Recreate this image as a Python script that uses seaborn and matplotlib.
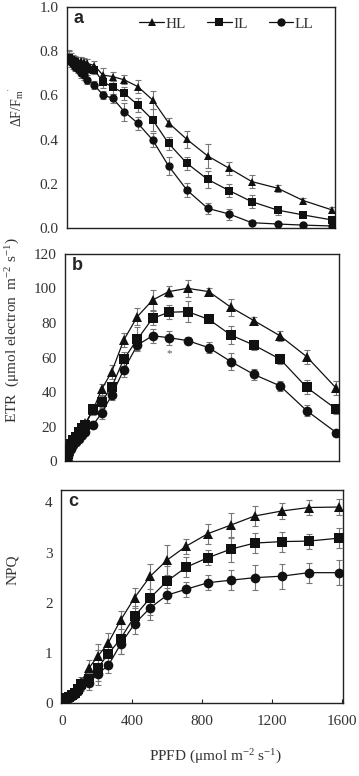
import numpy as np
import pandas as pd
import matplotlib
matplotlib.use("Agg")
import matplotlib.pyplot as plt
import seaborn as sns

# ---------------- data ----------------
ppfd = [0, 5, 15, 25, 40, 55, 75, 90, 110, 155, 205, 265, 335, 415, 505, 600,
        710, 835, 965, 1100, 1255, 1410, 1585]

yield_hl = [0.775, 0.77, 0.77, 0.765, 0.76, 0.755, 0.755, 0.75, 0.745, 0.735, 0.692,
            0.685, 0.67, 0.64, 0.579, 0.476, 0.401, 0.326, 0.27, 0.21, 0.18, 0.124, 0.081]
yield_il = [0.77, 0.765, 0.76, 0.755, 0.75, 0.74, 0.735, 0.73, 0.72, 0.715, 0.662,
            0.637, 0.609, 0.557, 0.489, 0.383, 0.293, 0.22, 0.169, 0.119, 0.081, 0.059, 0.036]
yield_ll = [0.765, 0.76, 0.75, 0.74, 0.73, 0.72, 0.70, 0.69, 0.67, 0.647, 0.602,
            0.587, 0.526, 0.474, 0.398, 0.281, 0.172, 0.089, 0.063, 0.024, 0.018, 0.013, 0.009]
yield_hl_err = [0.03, 0.03, 0.02, 0.02, 0.02, 0.02, 0.02, 0.02, 0.02, 0.02, 0.03,
                0.02, 0.02, 0.03, 0.04, 0.02, 0.04, 0.055, 0.03, 0.03, 0.015, 0.01, 0.015]
yield_il_err = [0.02, 0.02, 0.02, 0.02, 0.02, 0.02, 0.02, 0.02, 0.02, 0.02, 0.03,
                0.03, 0.03, 0.03, 0.05, 0.03, 0.03, 0.04, 0.03, 0.03, 0.02, 0.01, 0.02]
yield_ll_err = [0.02, 0.02, 0.02, 0.02, 0.02, 0.02, 0.02, 0.02, 0.02, 0.02, 0.02,
                0.02, 0.04, 0.03, 0.03, 0.04, 0.03, 0.025, 0.025, 0.01, 0.01, 0.01, 0.01]

etr_hl = [0, 3, 6, 9, 12, 14, 17, 19, 22, 29.6, 41.5, 51.8, 70, 83.7, 93.3, 98.2,
          100.1, 98.2, 89.1, 81.4, 72.5, 60.5, 42.1]
etr_il = [1, 4, 7, 10, 12, 14, 17, 19, 21, 30, 34.4, 43, 59, 70.5, 82.7, 86.2,
          86.6, 82.1, 73, 67.2, 59, 42.7, 30]
etr_ll = [1, 3, 5, 7, 9, 11, 13, 15, 17, 21, 27.6, 38.3, 52.8, 67.2, 72.6, 71.5,
          69.8, 65.7, 57.6, 50.2, 43.5, 29.2, 16.4]
etr_hl_err = [1, 1, 1, 1, 2, 2, 2, 2, 2, 3, 3, 4, 4, 5, 6, 3, 5, 2, 5, 2, 3, 4, 4]
etr_il_err = [1, 1, 1, 1, 2, 2, 2, 2, 2, 3, 3, 3, 4, 7, 4, 4, 6, 2, 5, 3, 3, 4, 3]
etr_ll_err = [1, 1, 1, 1, 2, 2, 2, 2, 2, 2, 3, 3, 4, 3, 4, 4, 2, 3, 5, 3, 3, 3, 1]

npq_hl = [0, 0.05, 0.08, 0.10, 0.13, 0.17, 0.22, 0.30, 0.42, 0.70, 0.93, 1.20, 1.65,
          2.10, 2.53, 2.85, 3.13, 3.38, 3.55, 3.73, 3.83, 3.90, 3.91]
npq_il = [0, 0.04, 0.07, 0.09, 0.12, 0.15, 0.20, 0.27, 0.38, 0.47, 0.70, 0.98, 1.28,
          1.73, 2.10, 2.43, 2.71, 2.90, 3.07, 3.19, 3.22, 3.23, 3.29]
npq_ll = [0, 0.04, 0.06, 0.08, 0.10, 0.13, 0.17, 0.23, 0.33, 0.40, 0.58, 0.75, 1.17,
          1.58, 1.90, 2.15, 2.27, 2.40, 2.45, 2.50, 2.53, 2.60, 2.60]
npq_hl_err = [0.03, 0.03, 0.03, 0.03, 0.05, 0.05, 0.05, 0.07, 0.1, 0.15, 0.25, 0.2, 0.18,
              0.2, 0.25, 0.3, 0.15, 0.2, 0.25, 0.2, 0.15, 0.15, 0.15]
npq_il_err = [0.03, 0.03, 0.03, 0.03, 0.05, 0.05, 0.05, 0.07, 0.1, 0.12, 0.35, 0.2, 0.3,
              0.2, 0.35, 0.3, 0.2, 0.15, 0.25, 0.2, 0.2, 0.15, 0.2]
npq_ll_err = [0.03, 0.03, 0.03, 0.03, 0.05, 0.05, 0.05, 0.07, 0.1, 0.15, 0.15, 0.15, 0.2,
              0.2, 0.25, 0.15, 0.15, 0.15, 0.2, 0.25, 0.25, 0.2, 0.25]

groups = ["HL", "IL", "LL"]
x_ticks = [0, 400, 800, 1200, 1600]

# ---------------- style ----------------
sns.set_style("ticks")
plt.rcParams["font.family"] = ["Liberation Serif", "DejaVu Serif"]
plt.rcParams["mathtext.fontset"] = "custom"
plt.rcParams["mathtext.rm"] = "Liberation Serif"
plt.rcParams["mathtext.it"] = "Liberation Serif:italic"
plt.rcParams["axes.linewidth"] = 1.0
txt_col = "#333333"
FS = 11

markers = {"HL": "^", "IL": "s", "LL": "o"}

fig = plt.figure(figsize=(3.59, 7.76), dpi=100)
ax_a = fig.add_axes([0.1866, 0.7062, 0.7465, 0.2848])
ax_b = fig.add_axes([0.1810, 0.4059, 0.7632, 0.2668])
ax_c = fig.add_axes([0.1699, 0.0941, 0.7855, 0.2745])


def panel(ax, vals, errs, ms, legend=False):
    df = pd.concat([pd.DataFrame({"PPFD": ppfd, "val": v, "err": e, "group": g})
                    for v, e, g in zip(vals, errs, groups)], ignore_index=True)
    for g in groups:
        sub = df[df.group == g]
        ax.errorbar(sub.PPFD, sub.val, yerr=sub.err, fmt="none", ecolor="#777777",
                    elinewidth=0.8, capsize=2.2, capthick=0.8, zorder=1)
    sns.lineplot(data=df, x="PPFD", y="val", hue="group", style="group",
                 palette={g: "#111111" for g in groups}, markers=markers,
                 dashes=False, markersize=ms, linewidth=0.9, markeredgewidth=0,
                 ax=ax, legend=legend, zorder=3, sort=False)
    for s in ax.spines.values():
        s.set_visible(True)
        s.set_color("#222222")
    ax.set_xlabel("")
    ax.set_ylabel("")
    ax.tick_params(axis="y", length=0, labelsize=FS, labelcolor=txt_col, pad=6)
    return df


panel(ax_a, [yield_hl, yield_il, yield_ll],
      [yield_hl_err, yield_il_err, yield_ll_err], 6, legend=True)
ax_a.set_xlim(-10, 1600)
ax_a.set_ylim(0, 1.0)
ax_a.set_yticks([0, 0.2, 0.4, 0.6, 0.8, 1.0])
ax_a.set_yticklabels(["0.0", "0.2", "0.4", "0.6", "0.8", "1.0"])
ax_a.set_xticks([])
leg = ax_a.legend(loc="upper left", ncol=3, frameon=False, fontsize=FS,
                  handlelength=1.6, handletextpad=0.1, columnspacing=1.4,
                  borderaxespad=0.0, borderpad=0.0,
                  bbox_to_anchor=(0.27, 0.955))
for t in leg.get_texts():
    t.set_color(txt_col)
ax_a.text(0.025, 0.985, "a", transform=ax_a.transAxes, ha="left", va="top",
          fontsize=13, fontweight="bold", family="Liberation Sans")

panel(ax_b, [etr_hl, etr_il, etr_ll], [etr_hl_err, etr_il_err, etr_ll_err], 7)
ax_b.set_xlim(-10, 1600)
ax_b.set_ylim(0, 120)
ax_b.set_yticks([0, 20, 40, 60, 80, 100, 120])
ax_b.set_xticks([])
ax_b.text(600, 62, "*", ha="center", va="center", fontsize=8, color="#555555")
ax_b.text(0.025, 0.985, "b", transform=ax_b.transAxes, ha="left", va="top",
          fontsize=13, fontweight="bold", family="Liberation Sans")

panel(ax_c, [npq_hl, npq_il, npq_ll], [npq_hl_err, npq_il_err, npq_ll_err], 7)
ax_c.set_xlim(-5, 1605)
ax_c.set_ylim(0, 4.25)
ax_c.set_yticks([0, 1, 2, 3, 4])
ax_c.set_xticks(x_ticks)
ax_c.tick_params(axis="x", direction="in", length=3, labelsize=FS,
                 labelcolor=txt_col, pad=9)
ax_c.text(0.025, 0.985, "c", transform=ax_c.transAxes, ha="left", va="top",
          fontsize=13, fontweight="bold", family="Liberation Sans")

# axis labels
fig.text(0.045, 1 - 107 / 776, r"$\Delta$F/F$_{\rm m}$$^{'}$", rotation=90,
         ha="center", va="center", fontsize=FS - 1, color=txt_col)
fig.text(0.035, 1 - 330 / 776, "ETR  (μmol electron  m$^{-2}$ s$^{-1}$)",
         rotation=90, ha="center", va="center", fontsize=FS, color=txt_col)
fig.text(0.035, 1 - 570 / 776, "NPQ", rotation=90, ha="center", va="center",
         fontsize=FS, color=txt_col)
fig.text(215 / 359, 1 - 757 / 776, "PPFD (μmol m$^{-2}$ s$^{-1}$)",
         ha="center", va="center", fontsize=FS, color=txt_col)

fig.savefig("out.png", dpi=100)
